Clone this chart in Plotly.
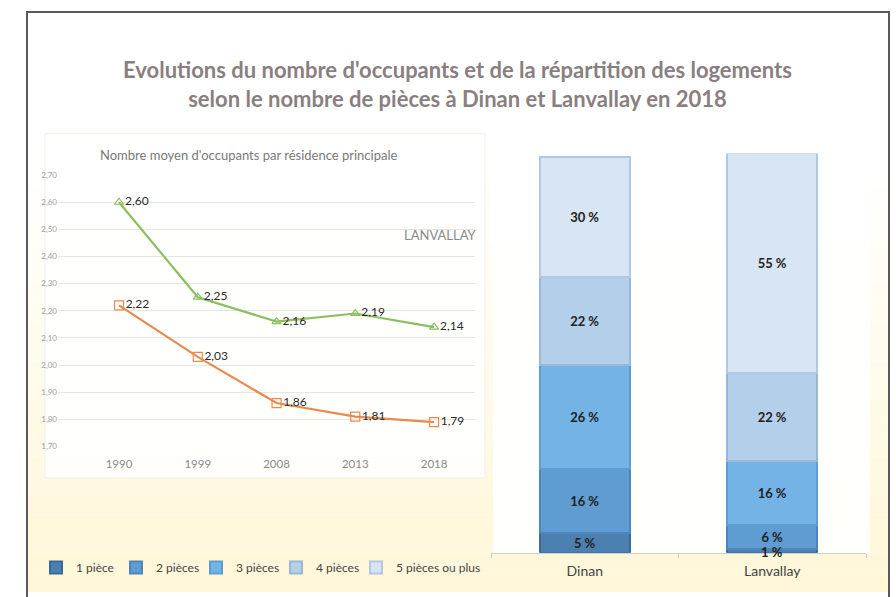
import plotly.graph_objects as go

W, H = 896, 597

# ---- data ----
years = ["1990", "1999", "2008", "2013", "2018"]
lanvallay_occ = [2.60, 2.25, 2.16, 2.19, 2.14]
dinan_occ = [2.22, 2.03, 1.86, 1.81, 1.79]

communes = ["Dinan", "Lanvallay"]
room_classes = ["1 pièce", "2 pièces", "3 pièces", "4 pièces", "5 pièces ou plus"]
share_1 = [5, 1]
share_2 = [16, 6]
share_3 = [26, 16]
share_4 = [22, 22]
share_5 = [30, 55]
shares = [share_1, share_2, share_3, share_4, share_5]
bar_colors = ["#4b80b0", "#5f9cd2", "#74b3e6", "#b4cfea", "#d7e5f4"]
edge_colors = ["#3a6a96", "#4d86ba", "#5e9dd0", "#98b8d8", "#b0c8e2"]

title_text = ("Evolutions du nombre d'occupants et de la répartition des logements<br>"
              "selon le nombre de pièces à Dinan et Lanvallay en 2018")
sub_title = "Nombre moyen d'occupants par résidence principale"

FONT = "Lato, 'Open Sans', sans-serif"


def px_x(x):
    return x / W


def px_y(y):
    return 1 - y / H


def fmt(v):
    return f"{v:.2f}".replace(".", ",")


fig = go.Figure()

# line chart
fig.add_trace(go.Scatter(
    x=years, y=lanvallay_occ, mode="lines+markers+text",
    text=[fmt(v) for v in lanvallay_occ], textposition="middle right",
    textfont=dict(size=12, color="#2a2a2a", family=FONT),
    line=dict(color="#8dbf5f", width=2.2),
    marker=dict(symbol="triangle-up-open", size=8, color="#8dbf5f", line=dict(width=1.2)),
    showlegend=False, xaxis="x", yaxis="y", cliponaxis=False, name="Lanvallay"))
fig.add_trace(go.Scatter(
    x=years, y=dinan_occ, mode="lines+markers+text",
    text=[fmt(v) for v in dinan_occ], textposition="middle right",
    textfont=dict(size=12, color="#2a2a2a", family=FONT),
    line=dict(color="#e88a50", width=2.2),
    marker=dict(symbol="square-open", size=9, color="#e88a50", line=dict(width=1.2)),
    showlegend=False, xaxis="x", yaxis="y", cliponaxis=False, name="Dinan"))

# stacked bars
for k, (name, vals, col, ec) in enumerate(zip(room_classes, shares, bar_colors, edge_colors)):
    labels = [f"{v} %" for v in vals]
    if k == 0:
        labels = [labels[0], ""]  # tiny segment labelled by annotation below
    fig.add_trace(go.Bar(
        x=communes, y=vals, name=name,
        marker=dict(color=col, line=dict(color=ec, width=2)),
        text=labels, textposition="inside",
        insidetextanchor="middle",
        textfont=dict(size=13, color="#222222", family=FONT, weight="bold"),
        width=0.48, xaxis="x2", yaxis="y2"))

# invisible spacer entry so the last legend label is not clipped
fig.add_trace(go.Bar(x=[None], y=[None], name=" ", marker=dict(color="rgba(0,0,0,0)"),
                     xaxis="x2", yaxis="y2", hoverinfo="skip"))

# background gradient
shapes = []
n = 30
for i in range(n):
    t = i / (n - 1)
    tt = max(0.0, (t - 0.25) / 0.75)
    r = 255
    g = round(255 - (255 - 247) * tt)
    b = round(255 - (255 - 216) * tt)
    shapes.append(dict(type="rect", xref="paper", yref="paper", layer="below",
                       x0=px_x(28), x1=px_x(888),
                       y0=px_y(8 + (i + 1) * (597 - 8) / n), y1=px_y(8 + i * (597 - 8) / n),
                       fillcolor=f"rgb({r},{g},{b})", line=dict(width=0)))
# inset panels
shapes.append(dict(type="rect", xref="paper", yref="paper", layer="below",
                   x0=px_x(45), x1=px_x(485), y0=px_y(481), y1=px_y(131),
                   fillcolor="rgba(255,255,255,0.85)", line=dict(color="#f0eee8", width=1)))
shapes.append(dict(type="rect", xref="paper", yref="paper", layer="below",
                   x0=px_x(493), x1=px_x(870), y0=px_y(557), y1=px_y(128),
                   fillcolor="rgba(255,255,255,0.9)", line=dict(width=0)))
# frame
shapes.append(dict(type="rect", xref="paper", yref="paper", layer="above",
                   x0=px_x(27), x1=px_x(889), y0=px_y(605), y1=px_y(7),
                   fillcolor="rgba(0,0,0,0)", line=dict(color="#5a5a5a", width=2)))

annotations = [
    dict(text=title_text, x=px_x(457), y=px_y(80), xref="paper", yref="paper",
         xanchor="center", yanchor="middle",
         showarrow=False, font=dict(size=22, color="#8a7f80", family=FONT, weight="bold"),
         align="center"),
    dict(text=sub_title, x=px_x(248), y=px_y(153), xref="paper", yref="paper",
         xanchor="center", yanchor="middle",
         showarrow=False, font=dict(size=13, color="#7a7a7a", family=FONT)),
    dict(text="LANVALLAY", x=px_x(479), y=px_y(234), xref="paper", yref="paper",
         xanchor="right", yanchor="middle",
         showarrow=False, font=dict(size=13, color="#8a8a8a", family=FONT)),
    # label of the thin Lanvallay "1 pièce" segment
    dict(text=f"{share_1[1]} %", x=communes[1], y=0, xref="x2", yref="y2",
         xanchor="center", yanchor="bottom", yshift=-9, showarrow=False,
         font=dict(size=13, color="#222222", family=FONT, weight="bold")),
]

fig.update_layout(
    width=W, height=H, margin=dict(l=0, r=0, t=0, b=0),
    paper_bgcolor="white", plot_bgcolor="rgba(0,0,0,0)",
    separators=", ",
    barmode="stack",
    uniformtext=dict(minsize=13, mode="show"),
    font=dict(family=FONT, color="#555555"),
    shapes=shapes, annotations=annotations,
    showlegend=True,
    legend=dict(orientation="h", x=px_x(36), y=px_y(572), xanchor="left", yanchor="middle",
                traceorder="normal", bgcolor="rgba(0,0,0,0)",
                font=dict(size=12, color="#444444", family=FONT),
                itemwidth=30, entrywidth=35, entrywidthmode="pixels"),
    xaxis=dict(domain=[px_x(58), px_x(475)], type="category", range=[-0.775, 4.52],
               showgrid=False, showline=False, ticks="", anchor="y",
               ticklabelstandoff=9,
               tickfont=dict(size=11.5, color="#8a8a8a", family=FONT)),
    yaxis=dict(domain=[px_y(449), px_y(173)], range=[1.70, 2.70], dtick=0.1,
               tickformat=".2f", showgrid=True, gridcolor="#e6e6e6", gridwidth=1,
               zeroline=False, showline=False, ticks="",
               tickfont=dict(size=8, color="#a0a0a0", family=FONT), anchor="x"),
    xaxis2=dict(domain=[px_x(491), px_x(866)], range=[-0.5, 1.5], anchor="y2",
                showline=True, linecolor="#d0d0d0", linewidth=1,
                ticks="outside", tickson="boundaries", ticklen=4, tickcolor="#c8c8c8",
                ticklabelstandoff=6,
                showgrid=False, tickfont=dict(size=14, color="#444444", family=FONT)),
    yaxis2=dict(domain=[px_y(557), px_y(151)], range=[0, 100], anchor="x2",
                visible=False, showgrid=False),
)

fig.write_html("out.html", config={"displayModeBar": False},
               post_script="document.body.style.margin='0';")
